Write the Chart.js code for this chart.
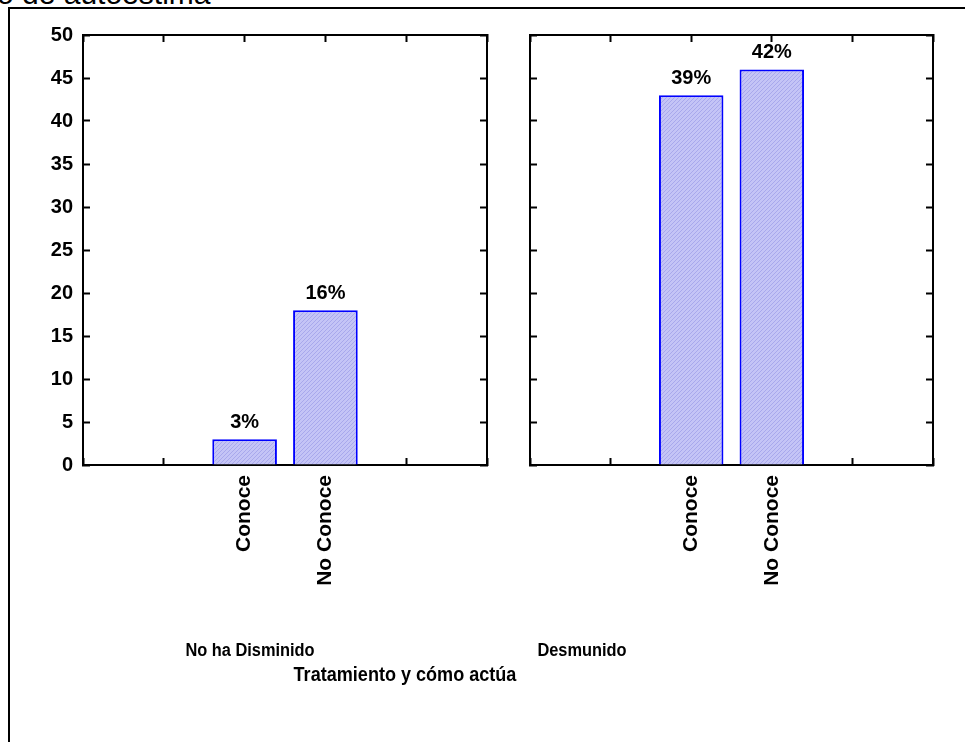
<!DOCTYPE html>
<html>
<head>
<meta charset="utf-8">
<script src="https://cdn.jsdelivr.net/npm/chart.js@4.4.1/dist/chart.umd.min.js"></script>
<style>
  html, body { margin: 0; padding: 0; background: #fff; width: 965px; height: 742px; overflow: hidden; }
  #wrap { position: relative; width: 965px; height: 742px; overflow: hidden; }
  canvas { position: absolute; top: 0; }
  .frame { position: absolute; left: 8px; top: 7px; width: 980px; height: 760px; border-left: 2px solid #000; border-top: 2px solid #000; }
  .lbl { position: absolute; width: 400px; text-align: center; font-family: Arial, "Liberation Sans", sans-serif; font-weight: bold; color: #000; line-height: 1; white-space: nowrap; transform-origin: center center; }
  .toptitle { position: absolute; left: -3px; top: -21px; font-family: Arial, "Liberation Sans", sans-serif; font-size: 30px; line-height: 30px; color: #000; white-space: nowrap; }
</style>
</head>
<body>
<div id="wrap">
  <div class="toptitle" id="topTitle"></div>
  <div class="frame"></div>
  <canvas id="c1" width="500" height="742" style="left:0px"></canvas>
  <canvas id="c2" width="465" height="742" style="left:500px"></canvas>
  <div class="lbl" id="g1" style="left:50px; top:641px; font-size:18px; transform:scaleX(0.91)"></div>
  <div class="lbl" id="g2" style="left:382px; top:641px; font-size:18px; transform:scaleX(0.91)"></div>
  <div class="lbl" id="xt" style="left:205px; top:663px; font-size:21px; transform:scaleX(0.86)"></div>
</div>
<script>
// ---- data ----
const topTitleText = 'o de autoestima';
const categories = ['', '', 'Conoce', 'No Conoce', '', ''];
const noHaDisminido = [null, null, 3, 18, null, null];
const desmunido = [null, null, 43, 46, null, null];
const pctNoHaDisminido = ['', '', '3%', '16%', '', ''];
const pctDesmunido = ['', '', '39%', '42%', '', ''];
const groupLabels = ['No ha Disminido', 'Desmunido'];
const axisTitle = 'Tratamiento y cómo actúa';
const yMin = 0, yMax = 50, yStep = 5;

document.getElementById('topTitle').textContent = topTitleText;
document.getElementById('g1').textContent = groupLabels[0];
document.getElementById('g2').textContent = groupLabels[1];
document.getElementById('xt').textContent = axisTitle;

// hatch pattern for bars
function makePattern() {
  const pc = document.createElement('canvas');
  pc.width = 4; pc.height = 4;
  const g = pc.getContext('2d');
  g.fillStyle = 'rgb(196,196,246)';
  g.fillRect(0, 0, 4, 4);
  g.fillStyle = 'rgb(168,168,236)';
  for (let i = 0; i < 4; i++) g.fillRect(i, 3 - i, 1, 1);
  return g.createPattern(pc, 'repeat');
}
const pattern = makePattern();

const FONT = 'Arial, "Liberation Sans", sans-serif';

const pctPlugin = {
  id: 'pctLabels',
  afterDatasetsDraw(chart, args, opts) {
    const ctx = chart.ctx;
    const meta = chart.getDatasetMeta(0);
    ctx.save();
    ctx.font = 'bold 20px ' + FONT;
    ctx.fillStyle = '#000';
    ctx.textAlign = 'center';
    ctx.textBaseline = 'alphabetic';
    meta.data.forEach((el, i) => {
      const v = chart.data.datasets[0].data[i];
      if (v === null || v === undefined) return;
      ctx.fillText(opts.labels[i], el.x, el.y - 11);
    });
    ctx.restore();
  }
};

function zeroPad(s) { s.paddingLeft = 0; s.paddingRight = 0; s.paddingTop = 0; s.paddingBottom = 0; }

function makeChart(id, values, pcts, showY, padRight, yWidth) {
  const tickGrid = { display: true, drawOnChartArea: false, drawTicks: true, tickLength: -7, tickWidth: 2, tickColor: '#000', color: '#000', offset: false };
  const border = { display: true, color: '#000', width: 2 };
  return new Chart(document.getElementById(id), {
    type: 'bar',
    data: {
      labels: categories,
      datasets: [{
        data: values,
        backgroundColor: pattern,
        borderColor: '#0000ff',
        borderWidth: 2,
        categoryPercentage: 0.8,
        barPercentage: 1.0
      }]
    },
    options: {
      responsive: false,
      animation: false,
      devicePixelRatio: 1,
      layout: { padding: { top: 35, right: padRight, left: 0, bottom: 0 } },
      plugins: { legend: { display: false }, tooltip: { enabled: false }, pctLabels: { labels: pcts } },
      scales: {
        x: {
          type: 'category', position: 'bottom', offset: false,
          grid: tickGrid, border: border,
          ticks: { autoSkip: false, minRotation: 90, maxRotation: 90, padding: 17, color: '#000', font: { family: FONT, weight: 'bold', size: 21 } },
          afterFit: s => { s.height = 742 - 465; zeroPad(s); }
        },
        x2: {
          type: 'category', position: 'top', offset: false,
          grid: tickGrid, border: border,
          ticks: { display: false, autoSkip: false },
          afterFit: s => { s.height = 0; zeroPad(s); }
        },
        y: {
          type: 'linear', position: 'left', min: yMin, max: yMax,
          grid: tickGrid, border: border,
          ticks: { display: showY, stepSize: yStep, padding: 17, color: '#000', font: { family: FONT, weight: 'bold', size: 20 } },
          afterFit: s => { s.width = yWidth; zeroPad(s); }
        },
        y2: {
          type: 'linear', position: 'right', min: yMin, max: yMax,
          grid: tickGrid, border: border,
          ticks: { display: false, stepSize: yStep },
          afterFit: s => { s.width = 0; zeroPad(s); }
        }
      }
    },
    plugins: [pctPlugin]
  });
}

makeChart('c1', noHaDisminido, pctNoHaDisminido, true, 13, 83);
makeChart('c2', desmunido, pctDesmunido, false, 32, 30);
</script>
</body>
</html>
